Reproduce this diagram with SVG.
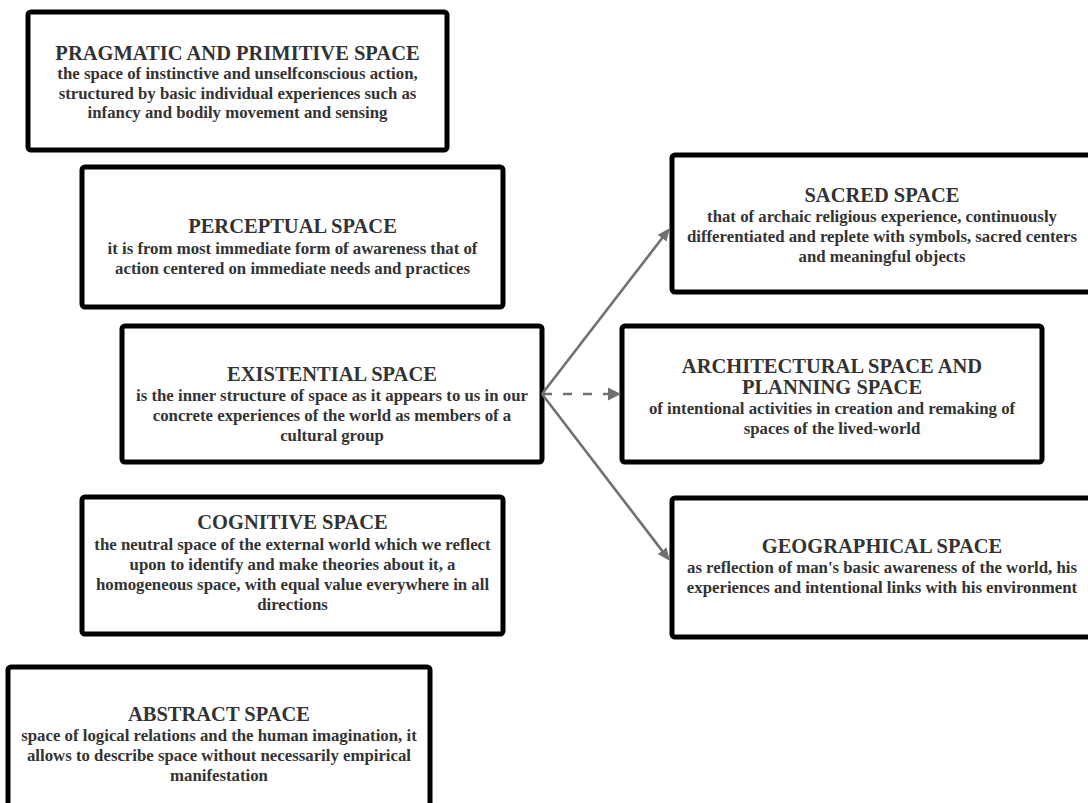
<svg xmlns="http://www.w3.org/2000/svg" width="1088" height="803" viewBox="0 0 1088 803">
  <style>
    .box { fill: #ffffff; stroke: #000000; stroke-width: 5; }
    .title { font-family: "Liberation Serif", "Times New Roman", serif; font-weight: bold; font-size: 20.5px; fill: #333333; text-anchor: middle; }
    .body { font-family: "Liberation Serif", "Times New Roman", serif; font-weight: bold; font-size: 16.8px; fill: #333333; text-anchor: middle; }
    .link { stroke: #707070; stroke-width: 2.6; fill: none; }
    .dash { stroke-dasharray: 9 11; }
  </style>
  <defs>
    <marker id="head" markerUnits="userSpaceOnUse" markerWidth="14" markerHeight="12" refX="5" refY="5.5" orient="auto">
      <path d="M0,0 L13,5.5 L0,11 z" fill="#707070"/>
    </marker>
  </defs>

  <rect width="1088" height="803" fill="#ffffff"/>

  <!-- left column -->
  <g id="pragmatic">
    <rect class="box" x="28" y="12" width="419" height="138" rx="3"/>
    <text class="title" x="237.5" y="59.5">PRAGMATIC AND PRIMITIVE SPACE</text>
    <text class="body" x="237.5" y="79">the space of instinctive and unselfconscious action,</text>
    <text class="body" x="237.5" y="98.5">structured by basic individual experiences such as</text>
    <text class="body" x="237.5" y="118">infancy and bodily movement and sensing</text>
  </g>

  <g id="perceptual">
    <rect class="box" x="82" y="167" width="421" height="140" rx="3"/>
    <text class="title" x="292.5" y="233">PERCEPTUAL SPACE</text>
    <text class="body" x="292.5" y="254">it is from most immediate form of awareness that of</text>
    <text class="body" x="292.5" y="274">action centered on immediate needs and practices</text>
  </g>

  <g id="existential">
    <rect class="box" x="122" y="326" width="420" height="136" rx="3"/>
    <text class="title" x="332" y="381">EXISTENTIAL SPACE</text>
    <text class="body" x="332" y="401">is the inner structure of space as it appears to us in our</text>
    <text class="body" x="332" y="421">concrete experiences of the world as members of a</text>
    <text class="body" x="332" y="441">cultural group</text>
  </g>

  <g id="cognitive">
    <rect class="box" x="82" y="497" width="421" height="137" rx="3"/>
    <text class="title" x="292.5" y="529">COGNITIVE SPACE</text>
    <text class="body" x="292.5" y="550">the neutral space of the external world which we reflect</text>
    <text class="body" x="292.5" y="570">upon to identify and make theories about it, a</text>
    <text class="body" x="292.5" y="590">homogeneous space, with equal value everywhere in all</text>
    <text class="body" x="292.5" y="610">directions</text>
  </g>

  <g id="abstract">
    <rect class="box" x="8" y="667" width="422" height="142" rx="3"/>
    <text class="title" x="219" y="721">ABSTRACT SPACE</text>
    <text class="body" x="219" y="741">space of logical relations and the human imagination, it</text>
    <text class="body" x="219" y="761">allows to describe space without necessarily empirical</text>
    <text class="body" x="219" y="781">manifestation</text>
  </g>

  <!-- right column -->
  <g id="sacred">
    <rect class="box" x="672" y="155" width="420" height="137" rx="3"/>
    <text class="title" x="882" y="202">SACRED SPACE</text>
    <text class="body" x="882" y="222">that of archaic religious experience, continuously</text>
    <text class="body" x="882" y="242">differentiated and replete with symbols, sacred centers</text>
    <text class="body" x="882" y="262">and meaningful objects</text>
  </g>

  <g id="architectural">
    <rect class="box" x="622" y="326" width="420" height="136" rx="3"/>
    <text class="title" x="832" y="373">ARCHITECTURAL SPACE AND</text>
    <text class="title" x="832" y="393.5">PLANNING SPACE</text>
    <text class="body" x="832" y="414">of intentional activities in creation and remaking of</text>
    <text class="body" x="832" y="434">spaces of the lived-world</text>
  </g>

  <g id="geographical">
    <rect class="box" x="672" y="498" width="420" height="139" rx="3"/>
    <text class="title" x="882" y="553">GEOGRAPHICAL SPACE</text>
    <text class="body" x="882" y="573">as reflection of man's basic awareness of the world, his</text>
    <text class="body" x="882" y="593">experiences and intentional links with his environment</text>
  </g>

  <!-- connectors leaving the existential box -->
  <g id="connectors">
    <line class="link" x1="542" y1="394" x2="665.1" y2="234.3" marker-end="url(#head)"/>
    <line class="link" x1="542" y1="394" x2="665.1" y2="554.6" marker-end="url(#head)"/>
    <line class="link dash" x1="543" y1="394" x2="609" y2="394"/>
    <path d="M608,387.5 L621,394 L608,400.5 z" fill="#707070"/>
  </g>
</svg>
